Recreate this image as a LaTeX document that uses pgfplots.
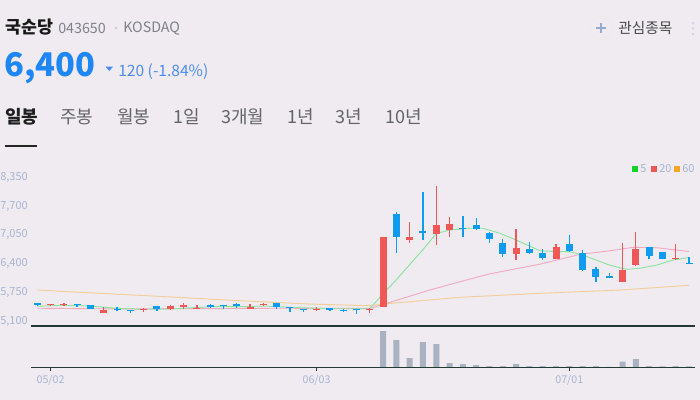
\documentclass[border=0pt]{standalone}
\usepackage{fontspec}
\usepackage{pgfplots}
\pgfplotsset{compat=1.18}
\usepackage{pgfplotstable}
\newfontfamily\kr{Noto Sans CJK KR}
\definecolor{bg}{RGB}{239,235,241}
\definecolor{cup}{RGB}{240,88,88}
\definecolor{cdn}{RGB}{14,155,240}
\definecolor{ma5}{RGB}{140,228,160}
\definecolor{ma20}{RGB}{242,170,192}
\definecolor{ma60}{RGB}{245,205,150}
\definecolor{lg5}{RGB}{20,210,40}
\definecolor{lg20}{RGB}{240,85,85}
\definecolor{lg60}{RGB}{245,165,40}
\definecolor{axl}{RGB}{168,180,208}
\definecolor{dk}{RGB}{35,58,52}
\definecolor{vol}{RGB}{170,177,192}
\definecolor{pblue}{RGB}{30,135,245}
\definecolor{cblue}{RGB}{75,140,240}
\definecolor{gtx}{RGB}{128,128,138}
\definecolor{tabc}{RGB}{100,100,104}

\pgfplotstableread{
i O H L C
1 5470 5490 5440 5480
2 5480 5510 5450 5500
5 5290 5430 5290 5360
8 5360 5410 5300 5380
10 5380 5460 5360 5450
11 5430 5510 5370 5460
12 5380 5470 5380 5410
16 5380 5490 5380 5420
17 5480 5520 5450 5500
21 5360 5420 5340 5380
25 5360 5410 5290 5380
26 5430 7000 5420 7000
28 6940 7340 6870 7000
30 7070 8150 6820 7270
31 7150 7450 7010 7300
36 6630 7180 6490 6750
39 6510 6840 6510 6780
44 5990 6870 5990 6260
45 6380 7120 6350 6730
48 6500 6850 6490 6520
}\up

\pgfplotstableread{
i O H L C
0 5510 5510 5450 5460
3 5490 5490 5430 5470
4 5470 5470 5380 5380
6 5380 5420 5330 5360
7 5360 5360 5290 5330
9 5450 5450 5340 5380
13 5460 5480 5410 5430
14 5470 5470 5380 5450
15 5480 5520 5410 5450
18 5510 5510 5380 5420
19 5420 5420 5300 5400
20 5380 5380 5310 5360
22 5400 5400 5330 5350
23 5360 5380 5310 5340
24 5380 5380 5270 5360
27 7520 7560 6650 7010
29 7140 8020 6940 7090
32 7210 7480 7010 7180
33 7270 7430 7170 7180
34 7090 7120 6870 6960
35 6870 6960 6560 6630
37 6730 6890 6630 6650
38 6640 6730 6490 6540
40 6850 7050 6660 6680
41 6640 6700 6230 6250
42 6270 6330 5990 6110
43 6120 6190 6070 6070
46 6780 6780 6510 6570
47 6670 6670 6510 6510
49 6410 6550 6390 6400
}\down

\pgfplotstableread{
i v
0 3
1 3
2 3
3 3
4 3
5 3
6 3
7 3
8 3
9 3
10 3
11 3
12 3
13 3
14 3
15 3
16 3
17 3
18 3
19 3
20 3
21 3
22 3
23 3
24 3
25 3
26 363
27 273
28 93
29 253
30 233
31 43
32 33
33 23
34 13
35 13
36 33
37 13
38 13
39 13
40 13
41 13
42 13
43 5
44 57
45 83
46 13
47 10
48 13
49 10
}\vol

\begin{document}
\begin{tikzpicture}[x=0.75pt,y=-0.75pt]
\useasboundingbox (0,0) rectangle (700,400);
\fill[bg] (0,0) rectangle (700,400);

% header
\node[anchor=west,inner sep=0pt,font=\kr\bfseries\fontsize{13}{14}\selectfont,text=black!90] at (5,27) {국순당};
\node[anchor=west,inner sep=0pt,font=\kr\fontsize{10.7}{12}\selectfont,text=gtx] at (58,28) {043650};
\fill[black!20] (116,28) circle (1.3);
\node[anchor=west,inner sep=0pt,font=\kr\fontsize{10.7}{12}\selectfont,text=gtx] at (123,28) {KOSDAQ};
\node[anchor=base west,inner sep=0pt,font=\kr\bfseries\fontsize{24.5}{27}\selectfont,text=pblue] at (4,76) {6,400};
\fill[cblue] (105.5,66.7)--(113,66.7)--(109.25,71)--cycle;
\node[anchor=base west,inner sep=0pt,font=\kr\fontsize{11.7}{13}\selectfont,text=cblue] at (118,76) {120 (-1.84\%)};

% tabs
\node[anchor=west,inner sep=0pt,font=\kr\bfseries\fontsize{13.5}{15}\selectfont,text=black!88] at (5,117) {일봉};
\foreach \xx/\tt in {60/주봉,117/월봉,173/1일,221/3개월,287/1년,335/3년,385/10년}
  \node[anchor=west,inner sep=0pt,font=\kr\fontsize{13.5}{15}\selectfont,text=tabc] at (\xx,117) {\tt};
\draw[black!85,line width=0.8pt] (5,146)--(37,146);

% watchlist
\draw[black!8,line width=0.5pt] (601,28) circle (11);
\draw[color={rgb,255:red,150;green,170;blue,205},line width=1.1pt] (596,28)--(606,28) (601,23)--(601,33);
\node[anchor=west,inner sep=0pt,font=\kr\fontsize{11}{12}\selectfont,text=black!72] at (618,28) {관심종목};
\foreach \yy in {23,28.3,34} \fill[color={rgb,255:red,205;green,215;blue,238}] (693,\yy) circle (1.5);

% legend
\fill[lg5] (632,166) rectangle (638,172);
\node[anchor=west,inner sep=0pt,font=\kr\fontsize{8.25}{9}\selectfont,text=axl] at (640,169) {5};
\fill[lg20] (651,166) rectangle (657,172);
\node[anchor=west,inner sep=0pt,font=\kr\fontsize{8.25}{9}\selectfont,text=axl] at (659,169) {20};
\fill[lg60] (674,166) rectangle (680,172);
\node[anchor=west,inner sep=0pt,font=\kr\fontsize{8.25}{9}\selectfont,text=axl] at (682,169) {60};

% price panel
\begin{axis}[
  at={(23.25pt,-244.5pt)}, anchor=south west, scale only axis,
  width=498pt, height=124.5pt,
  xmin=-0.47, xmax=49.45, ymin=4994, ymax=8741,
  axis line style={draw=none}, xtick=\empty,
  ytick={5100,5750,6400,7050,7700,8350},
  major tick length=0pt, scaled y ticks=false,
  yticklabel style={font=\kr\fontsize{8.25}{9}\selectfont, text=axl, inner sep=0pt, xshift=-2.25pt},
  /pgf/number format/1000 sep={,},
  /pgf/number format/assume math mode=true,
  clip=false,
]
\addplot[ma60, line width=0.7pt] coordinates {(0,5806) (4.7,5732) (9.7,5655) (15.2,5565) (20.5,5490) (25,5452) (26,5490) (31.8,5642) (37.8,5732) (43.8,5806) (49,5912)};
\addplot[ma20, line width=0.7pt] coordinates {(0,5395) (6,5380) (12,5385) (18,5395) (25,5390) (26,5480) (29.5,5806) (31.8,5995) (34,6170) (37.8,6390) (40.8,6610) (43,6690) (44.8,6770) (46.6,6760) (49,6675)};
\addplot[ma5, line width=0.7pt] coordinates {(0,5440) (2,5460) (4,5445) (6,5393) (8,5371) (10,5378) (12,5410) (13,5430) (15.5,5430) (17,5445) (19.75,5407) (22.3,5384) (25,5384) (26,5720) (27,6040) (28,6380) (29,6720) (30,7080) (31,7160) (32.5,7200) (33.5,7200) (34.8,7086) (36,6935) (37.8,6693) (39,6671) (40,6671) (41,6596) (42,6484) (43,6371) (44.3,6274) (45.3,6296) (46.6,6371) (47.8,6484) (49,6540)};
% wicks
\addplot[draw=none, no markers, error bars/.cd, y dir=minus, y explicit, error mark=none, error bar style={draw=cup, line width=1pt}]
  table[x=i, y=H, y error minus expr={\thisrow{H}-\thisrow{L}}] {\up};
\addplot[draw=none, no markers, error bars/.cd, y dir=minus, y explicit, error mark=none, error bar style={draw=cdn, line width=1pt}]
  table[x=i, y=H, y error minus expr={\thisrow{H}-\thisrow{L}}] {\down};
% bodies
\addplot[draw=none, no markers, error bars/.cd, y dir=minus, y explicit, error mark=none, error bar style={draw=cup, line width=5.25pt}]
  table[x=i, y=C, y error minus expr={max(\thisrow{C}-\thisrow{O},20)}] {\up};
\addplot[draw=none, no markers, error bars/.cd, y dir=minus, y explicit, error mark=none, error bar style={draw=cdn, line width=5.25pt}]
  table[x=i, y=O, y error minus expr={max(\thisrow{O}-\thisrow{C},20)}] {\down};
\draw[dk, line width=0.9pt] (rel axis cs:0,0) -- (rel axis cs:1,0);
\end{axis}

% volume panel
\begin{axis}[
  at={(23.25pt,-275.5pt)}, anchor=south west, scale only axis,
  width=498pt, height=31pt,
  xmin=-0.47, xmax=49.45, ymin=0, ymax=413,
  axis line style={draw=none}, ytick=\empty,
  xtick={1,21,40}, xticklabels={05/02,06/03,07/01},
  xtick pos=left, tick align=outside, major tick length=2.5pt,
  tick style={dk, line width=0.6pt},
  xticklabel style={font=\kr\fontsize{8}{9}\selectfont, text=axl},
  ybar, bar width=4.5pt, bar shift=0pt, clip=false,
]
\addplot[fill=vol, draw=none] table[x=i, y=v] {\vol};
\draw[dk, line width=0.9pt] (rel axis cs:0,0) -- (rel axis cs:1,0);
\end{axis}
\end{tikzpicture}
\end{document}
